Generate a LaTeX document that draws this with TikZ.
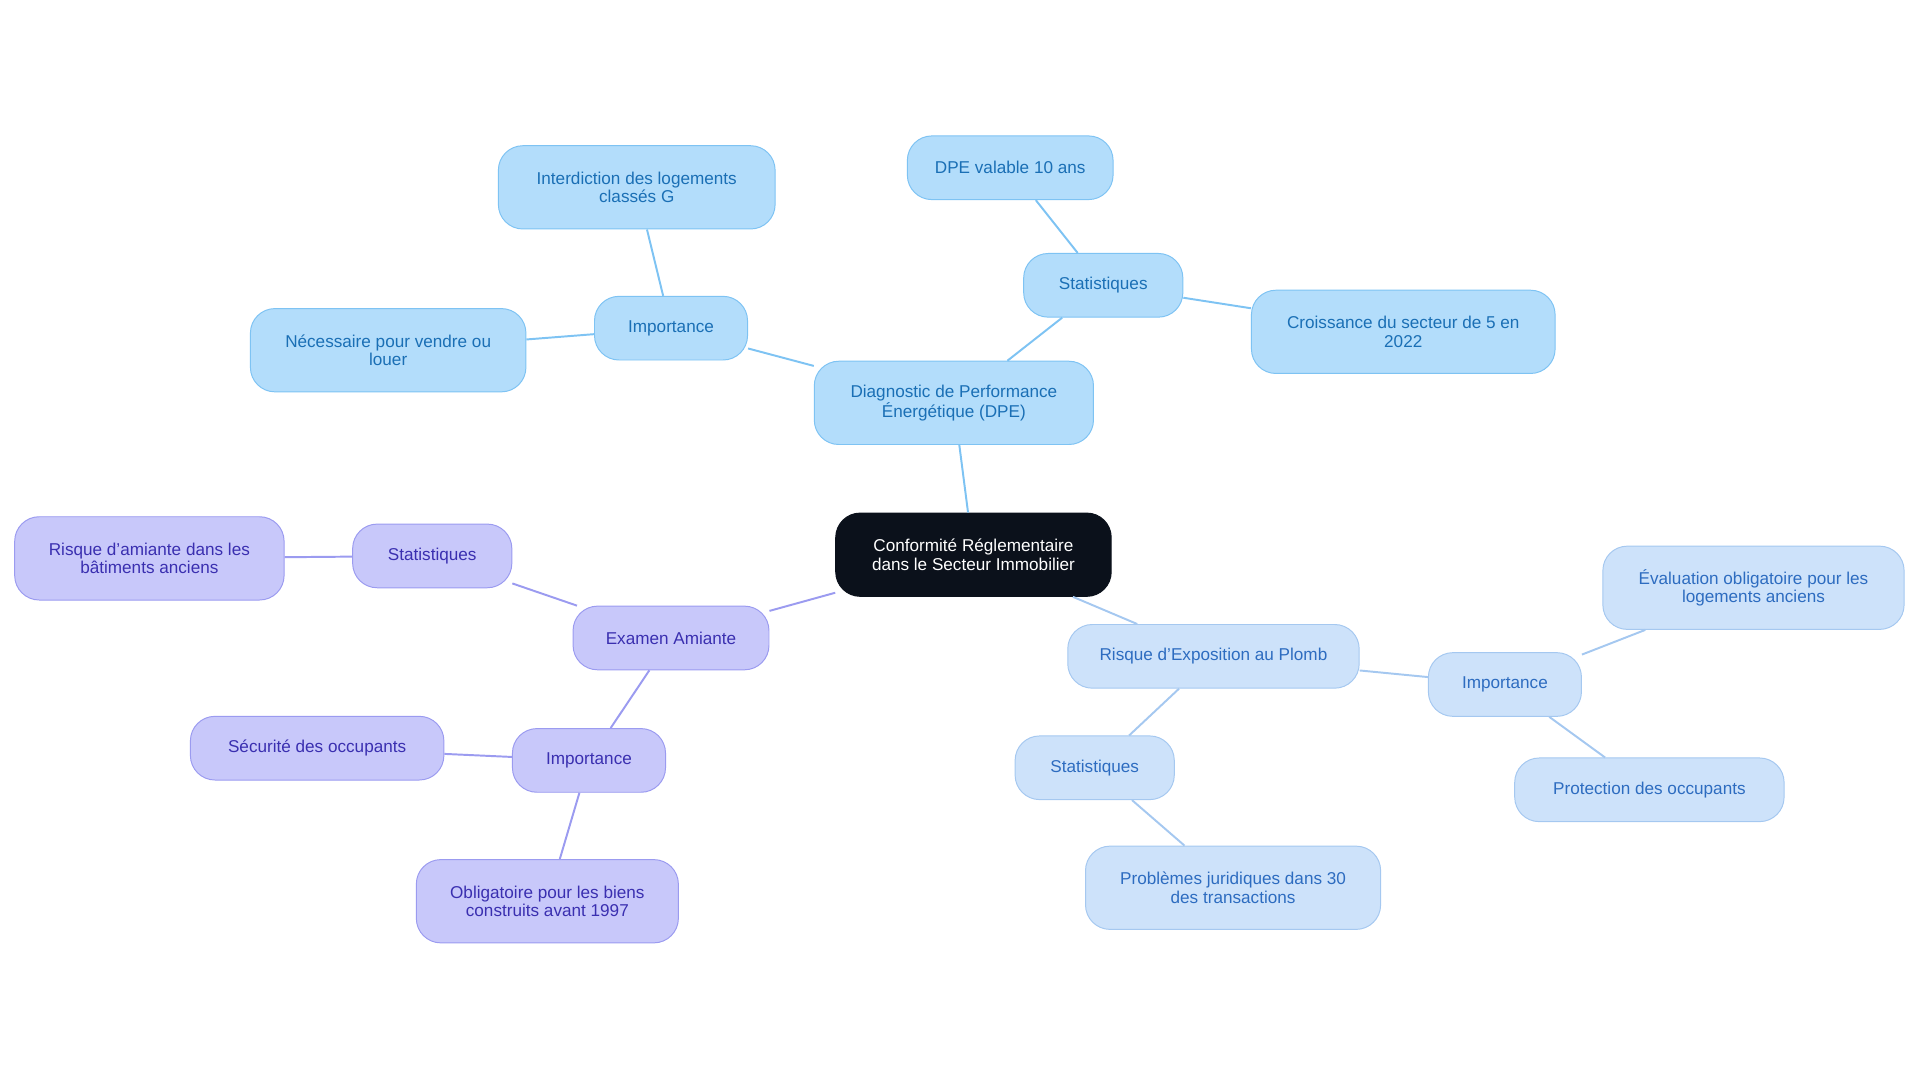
\documentclass[tikz,border=0pt]{standalone}
\usepackage{fontspec}
\setmainfont{Liberation Sans}
\definecolor{bF}{HTML}{B3DDFB}\definecolor{bD}{HTML}{7EC3F3}\definecolor{bT}{HTML}{1A6FB5}
\definecolor{pF}{HTML}{C8C8FA}\definecolor{pD}{HTML}{9B9BF0}\definecolor{pT}{HTML}{3A2FB0}
\definecolor{lF}{HTML}{CDE2FA}\definecolor{lD}{HTML}{A5C8F0}\definecolor{lT}{HTML}{2D6CC0}
\definecolor{cF}{HTML}{0B111B}
\begin{document}
\begin{tikzpicture}[x=1pt,y=-1pt,
 n/.style={rounded corners=20pt,draw,line width=0.8pt,align=center,inner sep=2pt,font=\fontsize{14}{15}\selectfont},
 b/.style={n,fill=bF,draw=bD,text=bT},
 p/.style={n,fill=pF,draw=pD,text=pT},
 l/.style={n,fill=lF,draw=lD,text=lT},
 e/.style={line width=1.6pt}]
\useasboundingbox (0,0) rectangle (1568,884);
\node[n,fill=cF,draw=cF,text=white,minimum width=225pt,minimum height=68pt] (c) at (795,453) {Conformité Réglementaire\\dans le Secteur Immobilier};
\node[b,minimum width=228pt,minimum height=68pt] (dpe) at (779,329) {Diagnostic de Performance\\Énergétique (DPE)};
\node[b,minimum width=125pt,minimum height=52pt] (i1) at (548,268) {Importance};
\node[b,minimum width=226pt,minimum height=68pt] (int) at (520,153) {Interdiction des logements\\classés G};
\node[b,minimum width=225pt,minimum height=68pt] (nec) at (317,286) {Nécessaire pour vendre ou\\louer};
\node[b,minimum width=130pt,minimum height=52pt] (s1) at (901,233) {Statistiques};
\node[b,minimum width=168pt,minimum height=52pt] (val) at (825,137) {DPE valable 10 ans};
\node[b,minimum width=248pt,minimum height=68pt] (cro) at (1146,271) {Croissance du secteur de 5 en\\2022};
\node[p,minimum width=160pt,minimum height=52pt] (am) at (548,521) {Examen Amiante};
\node[p,minimum width=130pt,minimum height=52pt] (s2) at (353,454) {Statistiques};
\node[p,minimum width=220pt,minimum height=68pt] (ra) at (122,456) {Risque d'amiante dans les\\bâtiments anciens};
\node[p,minimum width=125pt,minimum height=52pt] (i2) at (481,621) {Importance};
\node[p,minimum width=207pt,minimum height=52pt] (sec) at (259,611) {Sécurité des occupants};
\node[p,minimum width=214pt,minimum height=68pt] (obl) at (447,736) {Obligatoire pour les biens\\construits avant 1997};
\node[l,minimum width=238pt,minimum height=52pt] (pl) at (991,536) {Risque d'Exposition au Plomb};
\node[l,minimum width=125pt,minimum height=52pt] (i3) at (1229,559) {Importance};
\node[l,minimum width=246pt,minimum height=68pt] (ev) at (1432,480) {Évaluation obligatoire pour les\\logements anciens};
\node[l,minimum width=220pt,minimum height=52pt] (pr) at (1347,645) {Protection des occupants};
\node[l,minimum width=130pt,minimum height=52pt] (s3) at (894,627) {Statistiques};
\node[l,minimum width=241pt,minimum height=68pt] (pb) at (1007,725) {Problèmes juridiques dans 30\\des transactions};
\begin{scope}[on background layer/.style={}]
\end{scope}
\draw[e,bD] (c)--(dpe) (dpe)--(i1) (i1)--(int) (i1)--(nec) (dpe)--(s1) (s1)--(val) (s1)--(cro);
\draw[e,pD] (c)--(am) (am)--(s2) (s2)--(ra) (am)--(i2) (i2)--(sec) (i2)--(obl);
\draw[e,lD] (c)--(pl) (pl)--(i3) (i3)--(ev) (i3)--(pr) (pl)--(s3) (s3)--(pb);
\end{tikzpicture}
\end{document}
